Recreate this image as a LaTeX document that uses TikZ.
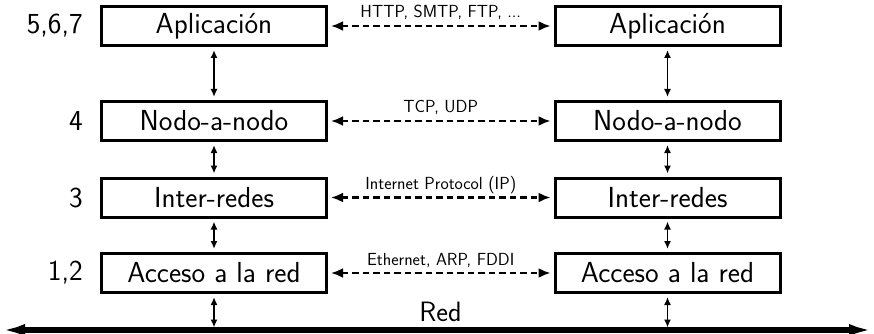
\documentclass[tikz,border=0pt]{standalone}
\usetikzlibrary{arrows.meta}
\begin{document}
\begin{tikzpicture}[x=1pt,y=-1pt,
  layer/.style={draw,line width=3pt,minimum width=225pt,minimum height=39pt,
    inner sep=0pt,font=\sffamily\fontsize{29}{31}\selectfont},
  num/.style={anchor=east,inner sep=0pt,font=\sffamily\fontsize{29}{31}\selectfont},
  peer/.style={{Latex[length=12pt,width=10pt]}-{Latex[length=12pt,width=10pt]},
    line width=2.3pt,dash pattern=on 6.5pt off 4pt,shorten <=3pt,shorten >=3pt},
  stack/.style={{Latex[length=8pt,width=7pt]}-{Latex[length=8pt,width=7pt]},
    line width=1.8pt,shorten <=3pt,shorten >=3pt},
  proto/.style={anchor=base,yshift=8pt,inner sep=0pt,
    font=\sffamily\fontsize{17.5}{19}\selectfont},
  net/.style={{Latex[length=25pt,width=12pt]}-{Latex[length=25pt,width=12pt]},line width=5.5pt}
]
\useasboundingbox (0,0) rectangle (874,334);

% protocol stacks, left host
\node[layer] (app1) at (214,26)    {Aplicación};
\node[layer] (tra1) at (214,121)   {Nodo-a-nodo};
\node[layer] (int1) at (214,197.5) {Inter-redes};
\node[layer] (acc1) at (214,273)   {Acceso a la red};

% protocol stacks, right host
\node[layer] (app2) at (667.5,26)    {Aplicación};
\node[layer] (tra2) at (667.5,121)   {Nodo-a-nodo};
\node[layer] (int2) at (667.5,197.5) {Inter-redes};
\node[layer] (acc2) at (667.5,273)   {Acceso a la red};

% OSI layer numbers
\node[num] (n1) at (83,26)    {5,6,7};
\node[num] (n2) at (83,121)   {4};
\node[num] (n3) at (83,197.5) {3};
\node[num] (n4) at (83,273)   {1,2};

% shared network
\coordinate (netL) at (0,330);
\coordinate (netR) at (874,330);
\draw[net] (netL) -- (netR);
\node[inner sep=0pt,font=\sffamily\fontsize{28}{30}\selectfont] (red) at (440.5,312) {Red};

% attachment points on the network line
\coordinate (tapL) at (214,327.5);
\coordinate (tapR) at (667.5,327.5);

% links inside each stack
\draw[stack] (app1.south) -- (tra1.north);
\draw[stack] (tra1.south) -- (int1.north);
\draw[stack] (int1.south) -- (acc1.north);
\draw[stack,shorten >=0pt] (acc1.south) -- (tapL);
\draw[stack] (app2.south) -- (tra2.north);
\draw[stack] (tra2.south) -- (int2.north);
\draw[stack] (int2.south) -- (acc2.north);
\draw[stack,shorten >=0pt] (acc2.south) -- (tapR);

% peer protocols
\draw[peer] (app1.east) -- node[proto] (p1) {HTTP, SMTP, FTP, ...} (app2.west);
\draw[peer] (tra1.east) -- node[proto] (p2) {TCP, UDP} (tra2.west);
\draw[peer] (int1.east) -- node[proto] (p3) {Internet Protocol (IP)} (int2.west);
\draw[peer] (acc1.east) -- node[proto] (p4) {Ethernet, ARP, FDDI} (acc2.west);
\end{tikzpicture}
\end{document}
